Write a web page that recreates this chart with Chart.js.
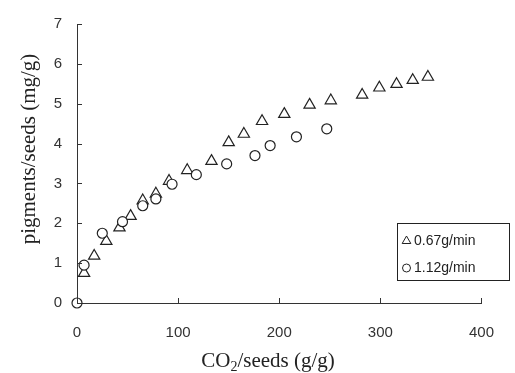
<!DOCTYPE html>
<html>
<head>
<meta charset="utf-8">
<script src="https://cdn.jsdelivr.net/npm/chart.js@4"></script>
<style>
  html, body { margin: 0; padding: 0; background: #fff; }
  #wrap { width: 515px; height: 373px; }
</style>
</head>
<body>
<div id="wrap"><canvas id="pig-chart"></canvas></div>
<script>
// Données : CO2/seeds (g/g) -> pigments/seeds (mg/g)
const seriesNames = ['0.67g/min', '1.12g/min'];
const co2Low = [7, 17, 29, 42, 53, 65, 78, 91, 109, 133, 150, 165, 183, 205, 230, 251, 282, 299, 316, 332, 347];
const pigLow = [0.75, 1.18, 1.55, 1.89, 2.18, 2.57, 2.74, 3.06, 3.33, 3.56, 4.03, 4.24, 4.56, 4.74, 4.97, 5.08, 5.22, 5.40, 5.49, 5.59, 5.67];
const co2High = [0, 7, 25, 45, 65, 78, 94, 118, 148, 176, 191, 217, 247];
const pigHigh = [0, 0.95, 1.75, 2.04, 2.44, 2.61, 2.98, 3.22, 3.49, 3.70, 3.95, 4.17, 4.37];
const xTicks = [0, 100, 200, 300, 400];
const yTicks = [0, 1, 2, 3, 4, 5, 6, 7];

const ink = '#222';
const serif = '"Liberation Serif", "Times New Roman", serif';
const sans = '"Liberation Sans", Arial, sans-serif';
const toXY = (xs, ys) => xs.map((x, i) => ({ x, y: ys[i] }));

// Petits traits de graduation vers l'intérieur + légende encadrée + titres d'axes
const decor = {
  id: 'decor',
  afterDraw(chart) {
    const { ctx, scales: { x, y }, chartArea: a } = chart;
    ctx.save();
    ctx.strokeStyle = '#333';
    ctx.lineWidth = 1;
    ctx.beginPath();
    xTicks.forEach(v => {
      const px = Math.round(x.getPixelForValue(v)) + 0.5;
      ctx.moveTo(px, a.bottom); ctx.lineTo(px, a.bottom - 5);
    });
    yTicks.forEach(v => {
      const py = Math.round(y.getPixelForValue(v)) + 0.5;
      ctx.moveTo(a.left, py); ctx.lineTo(a.left + 5, py);
    });
    ctx.stroke();

    // légende
    ctx.strokeStyle = ink;
    ctx.strokeRect(397.5, 223.5, 112, 57);
    ctx.font = '14px ' + sans;
    ctx.textBaseline = 'middle';
    chart.data.datasets.forEach((ds, i) => {
      const ly = 241 + i * 27;
      ctx.fillStyle = '#fff';
      ctx.strokeStyle = ink;
      ctx.lineWidth = 1;
      Chart.helpers.drawPoint(ctx, {
        pointStyle: ds.pointStyle, radius: ds.pointStyle === 'triangle' ? 5 : 4, borderWidth: 1, rotation: 0
      }, 406.5, ly);
      ctx.fillStyle = ink;
      ctx.fillText(ds.label, 414, ly + 0.5);
    });

    // titres des axes (police serif)
    ctx.fillStyle = ink;
    ctx.textBaseline = 'alphabetic';
    const t1 = 'CO', t2 = '/seeds (g/g)';
    ctx.font = '21px ' + serif;
    const w1 = ctx.measureText(t1).width;
    const w2 = ctx.measureText(t2).width;
    ctx.font = '14px ' + serif;
    const ws = ctx.measureText('2').width;
    const tx = 268 - (w1 + ws + w2) / 2;
    ctx.font = '21px ' + serif;
    ctx.fillText(t1, tx, 367);
    ctx.fillText(t2, tx + w1 + ws, 367);
    ctx.font = '14px ' + serif;
    ctx.fillText('2', tx + w1, 371);

    ctx.translate(29, 149);
    ctx.rotate(-Math.PI / 2);
    ctx.font = '21px ' + serif;
    ctx.textAlign = 'center';
    ctx.textBaseline = 'middle';
    ctx.fillText('pigments/seeds (mg/g)', 0, 0);
    ctx.restore();
  }
};

new Chart(document.getElementById('pig-chart'), {
  type: 'scatter',
  data: {
    datasets: [
      {
        label: seriesNames[0], data: toXY(co2Low, pigLow), order: 1, clip: false,
        pointStyle: 'triangle', pointRadius: 6.5, pointHoverRadius: 6.5,
        borderColor: ink, backgroundColor: '#fff', borderWidth: 1.2
      },
      {
        label: seriesNames[1], data: toXY(co2High, pigHigh), order: 0, clip: false,
        pointStyle: 'circle', pointRadius: 5, pointHoverRadius: 5,
        borderColor: ink, backgroundColor: '#fff', borderWidth: 1.2
      }
    ]
  },
  options: {
    responsive: true,
    maintainAspectRatio: false,
    animation: false,
    layout: { padding: { top: 19, right: 14, left: 0, bottom: 0 } },
    plugins: { legend: { display: false }, tooltip: { enabled: false } },
    scales: {
      x: {
        type: 'linear', min: 0, max: 400,
        afterFit: s => { s.height = 70; },
        afterBuildTicks: s => { s.ticks = xTicks.map(v => ({ value: v })); },
        grid: { display: false, drawTicks: false },
        border: { color: '#333', width: 1 },
        ticks: { padding: 21, color: '#333', font: { family: sans, size: 15 }, maxRotation: 0 }
      },
      y: {
        type: 'linear', min: 0, max: 7,
        afterFit: s => { s.width = 77; },
        afterBuildTicks: s => { s.ticks = yTicks.map(v => ({ value: v })); },
        grid: { display: false, drawTicks: false },
        border: { color: '#333', width: 1 },
        ticks: { padding: 15, color: '#333', font: { family: sans, size: 15 } }
      }
    }
  },
  plugins: [decor]
});
</script>
</body>
</html>
